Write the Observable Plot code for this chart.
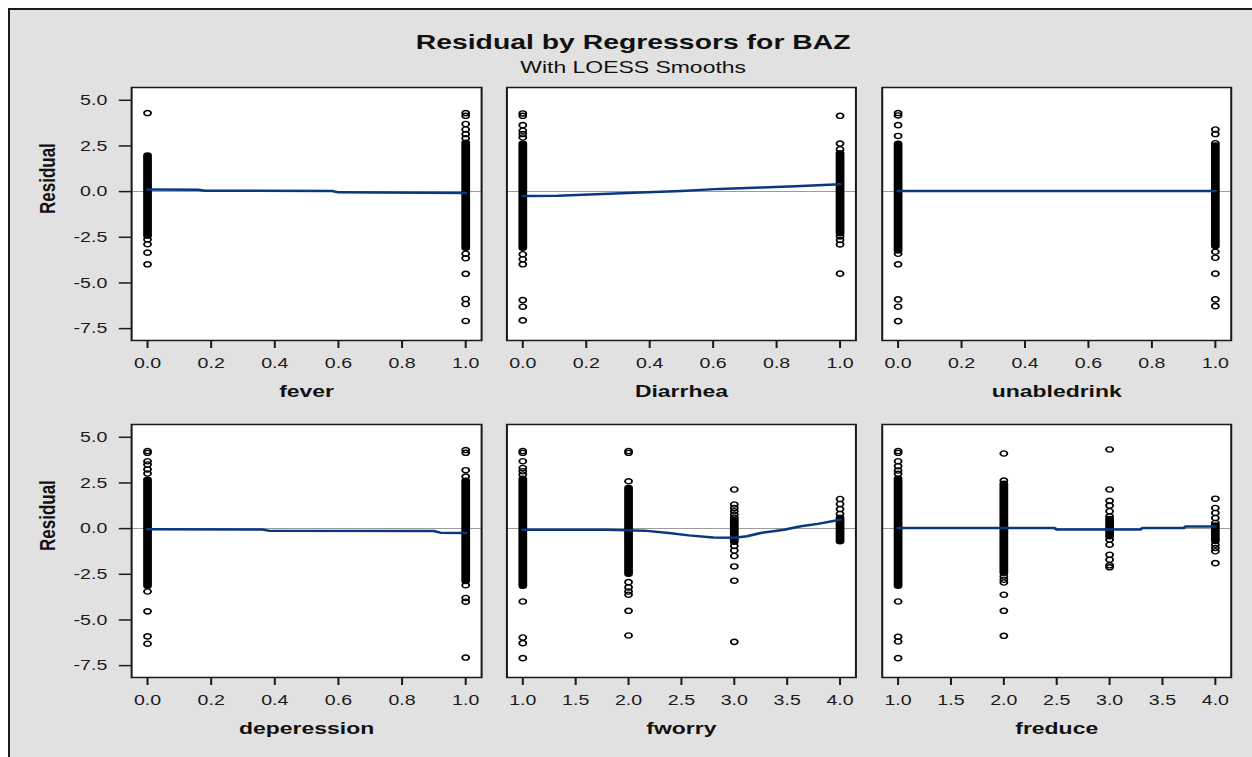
<!DOCTYPE html>
<html>
<head>
<meta charset="utf-8">
<script src="https://cdn.jsdelivr.net/npm/d3@7"></script>
<script src="https://cdn.jsdelivr.net/npm/@observablehq/plot@0.6"></script>
<style>
  html, body { margin: 0; padding: 0; background: #ffffff; overflow: hidden; }
  body { width: 1252px; height: 757px; position: relative;
         font-family: "Liberation Sans", Arial, Helvetica, sans-serif; }
  #backdrop { position: absolute; left: 8px; top: 8px; width: 1242px; height: 747px;
              background: #e1e1e1; border-left: 2px solid #1a1a1a; border-top: 2px solid #1a1a1a; }
  #chart { position: absolute; left: 0; top: 0; width: 920px; height: 757px; overflow: visible;
           transform: scaleX(1.35); transform-origin: 0 0; }
  #title, #subtitle { position: absolute; left: 0; width: 938px; text-align: center; color: #111; white-space: nowrap; }
  #title { top: 31px; font-size: 21px; line-height: 21px; font-weight: bold; }
  #subtitle { top: 59px; font-size: 17px; line-height: 17px; }
</style>
</head>
<body>
<div id="backdrop"></div>
<div id="chart">
  <div id="title">Residual by Regressors for BAZ</div>
  <div id="subtitle">With LOESS Smooths</div>
</div>
<script>
// Regressor names, one panel each
const variables = ["fever", "Diarrhea", "unabledrink", "deperession", "fworry", "freduce"];
const binaryTicks = [0, 0.2, 0.4, 0.6, 0.8, 1.0];
const ordinalTicks = [1, 1.5, 2, 2.5, 3, 3.5, 4];
const residualTicks = [-7.5, -5, -2.5, 0, 2.5, 5];

// Solid runs where residual circles overlap completely: [level, low, high]
const feverRuns = [[0, -2.45, 1.95], [1, -3.1, 2.65]];
const diarrheaRuns = [[0, -3.1, 2.6], [1, -2.3, 2.07]];
const unabledrinkRuns = [[0, -3.25, 2.6], [1, -3.0, 2.5]];
const deperessionRuns = [[0, -3.16, 2.65], [1, -2.9, 2.6]];
const fworryRuns = [[1, -3.16, 2.7], [2, -2.5, 2.2], [3, -0.75, 0.45], [4, -0.72, 0.45]];
const freduceRuns = [[1, -3.16, 2.7], [2, -2.45, 2.43], [3, -0.45, 0.5], [4, -0.7, 0.15]];

// Residuals that show as separate circles: [level, residual]
const feverPoints = [
  [0, 4.3], [0, -2.62], [0, -2.88], [0, -3.34], [0, -3.98],
  [1, 4.3], [1, 4.15], [1, 3.7], [1, 3.4], [1, 3.15], [1, 2.92],
  [1, -3.4], [1, -3.65], [1, -4.5], [1, -5.88], [1, -6.15], [1, -7.08]
];
const diarrheaPoints = [
  [0, 4.28], [0, 4.15], [0, 3.64], [0, 3.33], [0, 3.15], [0, 2.96],
  [0, -3.43], [0, -3.7], [0, -3.98], [0, -5.94], [0, -6.3], [0, -7.05],
  [1, 4.15], [1, 2.63], [1, 2.32], [1, -2.45], [1, -2.65], [1, -2.89], [1, -4.49]
];
const unabledrinkPoints = [
  [0, 4.3], [0, 4.17], [0, 3.64], [0, 3.05], [0, -3.4], [0, -3.98], [0, -5.9], [0, -6.3], [0, -7.09],
  [1, 3.4], [1, 3.15], [1, 2.65], [1, -3.29], [1, -3.62], [1, -4.49], [1, -5.9], [1, -6.27]
];
const deperessionPoints = [
  [0, 4.25], [0, 4.15], [0, 3.69], [0, 3.51], [0, 3.24], [0, 3.02],
  [0, -3.44], [0, -4.53], [0, -5.9], [0, -6.3],
  [1, 4.3], [1, 4.15], [1, 3.2], [1, 2.85], [1, -3.1], [1, -3.8], [1, -4.0], [1, -7.06]
];
const fworryPoints = [
  [1, 4.25], [1, 4.15], [1, 3.69], [1, 3.32], [1, 3.14], [1, 2.96],
  [1, -3.99], [1, -5.96], [1, -6.27], [1, -7.09],
  [2, 4.25], [2, 4.15], [2, 2.59], [2, -2.93], [2, -3.22], [2, -3.44], [2, -3.62], [2, -4.5], [2, -5.85],
  [3, 2.14], [3, 1.32], [3, 1.13], [3, 0.95], [3, 0.77], [3, 0.6],
  [3, -0.95], [3, -1.2], [3, -1.5], [3, -2.07], [3, -2.85], [3, -6.2],
  [4, 1.62], [4, 1.35], [4, 1.07], [4, 0.8], [4, 0.6]
];
const freducePoints = [
  [1, 4.25], [1, 4.15], [1, 3.69], [1, 3.42], [1, 3.18], [1, 3.0],
  [1, -3.99], [1, -5.92], [1, -6.18], [1, -7.09],
  [2, 4.11], [2, 2.63], [2, -2.62], [2, -2.8], [2, -2.95], [2, -3.62], [2, -4.5], [2, -5.87],
  [3, 4.33], [3, 2.14], [3, 1.52], [3, 1.26], [3, 0.95], [3, 0.67],
  [3, -0.6], [3, -0.88], [3, -1.43], [3, -1.7], [3, -2.01], [3, -2.12],
  [4, 1.64], [4, 1.13], [4, 0.86], [4, 0.58], [4, 0.31], [4, -0.88], [4, -1.06], [4, -1.24], [4, -1.89]
];

// LOESS smooth of residual on each regressor: [x, fitted]
const feverLoess = [[0, 0.11], [0.16, 0.1], [0.18, 0.05], [0.58, 0.03], [0.6, -0.04], [1, -0.07]];
const diarrheaLoess = [[0, -0.24], [0.11, -0.22], [0.23, -0.14], [0.35, -0.06], [0.5, 0.04],
                       [0.62, 0.15], [0.75, 0.22], [0.86, 0.3], [1, 0.4]];
const unabledrinkLoess = [[0, 0.03], [1, 0.03]];
const deperessionLoess = [[0, -0.04], [0.36, -0.05], [0.38, -0.11], [0.9, -0.13], [0.92, -0.22], [1, -0.24]];
const fworryLoess = [[1, -0.06], [1.79, -0.06], [2.15, -0.11], [2.38, -0.24], [2.57, -0.37], [2.8, -0.48],
                     [3.0, -0.5], [3.12, -0.42], [3.25, -0.24], [3.47, -0.06], [3.63, 0.13], [3.79, 0.26], [4, 0.49]];
const freduceLoess = [[1, 0.03], [2.48, 0.03], [2.5, -0.05], [3.29, -0.05], [3.31, 0.03], [3.7, 0.03],
                      [3.72, 0.12], [4, 0.12]];

const panels = [
  {runs: feverRuns, points: feverPoints, loess: feverLoess, ticks: binaryTicks, domain: [-0.05, 1.05]},
  {runs: diarrheaRuns, points: diarrheaPoints, loess: diarrheaLoess, ticks: binaryTicks, domain: [-0.05, 1.05]},
  {runs: unabledrinkRuns, points: unabledrinkPoints, loess: unabledrinkLoess, ticks: binaryTicks, domain: [-0.05, 1.05]},
  {runs: deperessionRuns, points: deperessionPoints, loess: deperessionLoess, ticks: binaryTicks, domain: [-0.05, 1.05]},
  {runs: fworryRuns, points: fworryPoints, loess: fworryLoess, ticks: ordinalTicks, domain: [0.85, 4.15]},
  {runs: freduceRuns, points: freducePoints, loess: freduceLoess, ticks: ordinalTicks, domain: [0.85, 4.15]}
].map((p, i) => ({...p, name: variables[i]}));

// Page geometry: the chart block is drawn narrow and stretched horizontally by SX
const SX = 1.35;
const colLeft = [131, 506, 881];
const colWidth = [350, 349, 349];
const rowTop = [87, 424];
const panelHeight = 253;
const M = {left: 100, right: 10, top: 10, bottom: 66};
const fmt = d => d.toFixed(1);
const chart = document.getElementById("chart");

panels.forEach((p, i) => {
  const c = i % 3, r = Math.floor(i / 3);
  const w = colWidth[c] / SX;
  const svg = Plot.plot({
    width: M.left + w + M.right,
    height: M.top + panelHeight + M.bottom,
    marginLeft: M.left, marginRight: M.right, marginTop: M.top, marginBottom: M.bottom,
    style: {background: "transparent", overflow: "visible", color: "#1a1a1a",
            fontFamily: "'Liberation Sans', Arial, Helvetica, sans-serif", fontSize: "14.5px"},
    x: {domain: p.domain, axis: null, label: null},
    y: {domain: [-8.15, 5.7], axis: null, label: null},
    marks: [
      Plot.frame({fill: "white", stroke: null}),
      Plot.ruleY([0], {stroke: "#9c9c9c", strokeWidth: 1}),
      Plot.ruleX(p.runs, {x: d => d[0], y1: d => d[1], y2: d => d[2], stroke: "#000",
                          strokeWidth: 6.5, strokeLinecap: "round"}),
      Plot.dot(p.points, {x: d => d[0], y: d => d[1], r: 2.6, stroke: "#000", strokeWidth: 1.35, fill: "none"}),
      Plot.line(p.loess, {x: d => d[0], y: d => d[1], stroke: "#0a3880", strokeWidth: 2.5}),
      Plot.frame({stroke: "#1a1a1a", strokeWidth: 1.5}),
      Plot.axisX({ticks: p.ticks, tickFormat: fmt, tickSize: 8, tickPadding: 9, fontSize: 14.5,
                  strokeWidth: 1.5, label: null}),
      c === 0 ? Plot.axisY({ticks: residualTicks, tickFormat: fmt, tickSize: 9, tickPadding: 9,
                            fontSize: 14.5, strokeWidth: 1.5, label: null}) : null,
      Plot.text([p.name], {frameAnchor: "bottom", dy: 57, fontWeight: "bold", fontSize: 17, fill: "#111"}),
      c === 0 ? Plot.text(["Residual"], {frameAnchor: "left", dx: -62, rotate: -90,
                                         fontWeight: "bold", fontSize: 17, fill: "#111"}) : null
    ]
  });
  svg.style.position = "absolute";
  svg.style.left = (colLeft[c] / SX - M.left) + "px";
  svg.style.top = (rowTop[r] - M.top) + "px";
  svg.style.maxWidth = "none";
  chart.appendChild(svg);
});
</script>
</body>
</html>
